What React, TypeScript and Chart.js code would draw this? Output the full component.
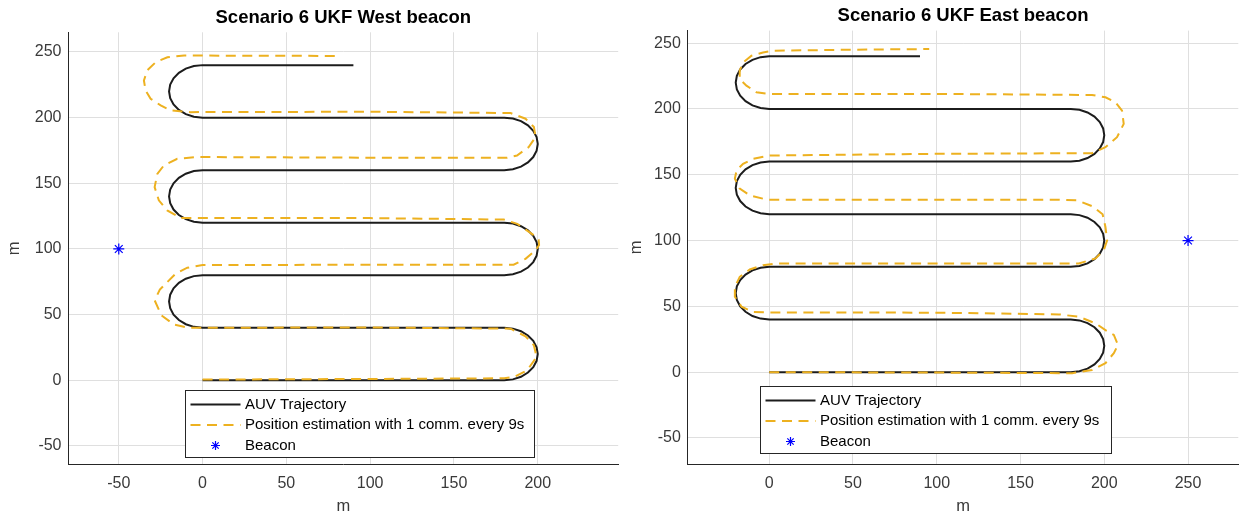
import React, { useEffect, useRef } from "react";
import { Chart, registerables } from "chart.js";
import { drawPoint } from "chart.js/helpers";

Chart.register(...registerables);

const FONT = '"Liberation Sans", Arial, Helvetica, sans-serif';

// ---------- text ----------
const seriesLabels = ["AUV Trajectory", "Position estimation with 1 comm. every 9s", "Beacon"];
const westTitle = "Scenario 6 UKF West beacon";
const eastTitle = "Scenario 6 UKF East beacon";
const axisLabel = "m";

// ---------- tick values ----------
const westXTicks = [-50, 0, 50, 100, 150, 200];
const eastXTicks = [0, 50, 100, 150, 200, 250];
const yTicks = [-50, 0, 50, 100, 150, 200, 250];

// ---------- AUV trajectory (same in both plots) ----------
const trajX = [
  0,
  180, 185.18, 190, 194.14, 197.32, 199.32, 200, 199.32, 197.32, 194.14, 190, 185.18, 180,
  0, -5.18, -10, -14.14, -17.32, -19.32, -20, -19.32, -17.32, -14.14, -10, -5.18, 0,
  180, 185.18, 190, 194.14, 197.32, 199.32, 200, 199.32, 197.32, 194.14, 190, 185.18, 180,
  0, -5.18, -10, -14.14, -17.32, -19.32, -20, -19.32, -17.32, -14.14, -10, -5.18, 0,
  180, 185.18, 190, 194.14, 197.32, 199.32, 200, 199.32, 197.32, 194.14, 190, 185.18, 180,
  0, -5.18, -10, -14.14, -17.32, -19.32, -20, -19.32, -17.32, -14.14, -10, -5.18, 0,
  90,
];
const trajY = [
  0,
  0, 0.68, 2.68, 5.86, 10, 14.82, 20, 25.18, 30, 34.14, 37.32, 39.32, 40,
  40, 40.68, 42.68, 45.86, 50, 54.82, 60, 65.18, 70, 74.14, 77.32, 79.32, 80,
  80, 80.68, 82.68, 85.86, 90, 94.82, 100, 105.18, 110, 114.14, 117.32, 119.32, 120,
  120, 120.68, 122.68, 125.86, 130, 134.82, 140, 145.18, 150, 154.14, 157.32, 159.32, 160,
  160, 160.68, 162.68, 165.86, 170, 174.82, 180, 185.18, 190, 194.14, 197.32, 199.32, 200,
  200, 200.68, 202.68, 205.86, 210, 214.82, 220, 225.18, 230, 234.14, 237.32, 239.32, 240,
  240,
];

// ---------- position estimation, West beacon ----------
const westEstX = [0, 100, 180, 185.8, 193.7, 199.3, 197.7, 192.7, 183.8, 100, 0, -8.2, -17.1, -24.6, -28.6, -25.5, -22, -16, -9.1, 0, 100, 185.6, 192.7, 198.7, 200.8, 200.5, 197.7, 193.7, 187.8, 179.8, 100, 0, -13.1, -21.1, -26.1, -28.6, -27, -23.1, -15.1, -3.2, 100, 181.7, 187.6, 194.6, 198.7, 197.7, 192.7, 183.8, 100, -7.2, -19, -25, -31, -34, -35, -33, -28, -21, -11, 82];
const westEstY = [0.5, 1, 1.5, 2.5, 7.6, 17.7, 26.6, 33.5, 39.3, 40.2, 40, 40, 42.4, 49.5, 60.9, 69, 73.6, 81.2, 85.7, 87.7, 88, 88, 92.5, 99, 103, 107, 110.4, 114, 119.1, 122.4, 123.5, 123.5, 123.5, 129.4, 137, 147.1, 157.2, 163.6, 168.7, 170, 169.5, 169.4, 171.2, 177.6, 185.2, 192.8, 199.2, 203.5, 204.5, 204.2, 205.5, 209.3, 214.4, 220.7, 228.3, 236, 242.2, 246, 247.3, 247];

// ---------- position estimation, East beacon ----------
const eastEstX = [0, 100, 180.8, 192.7, 200.7, 205.7, 208.2, 205.7, 200.7, 194.8, 184.8, 172.9, 100, 0, -9.6, -16.5, -20.5, -20.5, -17.6, -11.6, -3.7, 4.3, 100, 184.8, 194.8, 199.7, 201.7, 200.7, 199, 193, 184, 172, 100, 0, -3.7, -11.6, -17.6, -20.5, -19.5, -15.6, -9.6, 0.3, 100, 192.7, 200.7, 207.6, 211.6, 210.6, 206.7, 200.7, 192.7, 100, -0.7, -7.6, -13.6, -17.6, -17.6, -15.6, -10.6, -3.7, 2.3, 50, 95.5];
const eastEstY = [0, -0.3, -0.8, 1.7, 6.8, 14.4, 20.7, 28.3, 32, 37.1, 42.1, 43.9, 45.2, 45.4, 45.8, 49.7, 57.3, 64.8, 72.4, 78, 81.3, 82.6, 82.6, 82.6, 86.4, 92.7, 100.2, 110.3, 120, 126, 130.5, 131, 131, 131, 131.8, 134.3, 139.4, 147, 153.3, 158.3, 162.1, 164.6, 165.9, 166.4, 170.9, 178.5, 188.6, 198.7, 205, 208.8, 210.6, 211.4, 211.4, 212.6, 217.7, 222.7, 229, 235.3, 240.4, 242.9, 244.2, 245, 245.5];

// ---------- beacons ----------
const westBeaconX = [-50];
const westBeaconY = [100];
const eastBeaconX = [250];
const eastBeaconY = [100];

const toPoints = (xs: number[], ys: number[]) => xs.map((x, i) => ({ x, y: ys[i] }));

const boxLegend = {
  id: "boxLegend",
  afterDatasetsDraw(chart: any, _args: any, o: any) {
    const { ctx, chartArea } = chart;
    const x0 = Math.round(chartArea.left + o.offsetX) + 0.5;
    const y0 = Math.round(chartArea.bottom - o.offsetBottom - o.height) + 0.5;
    ctx.save();
    ctx.fillStyle = "#ffffff";
    ctx.fillRect(x0, y0, o.width, o.height);
    ctx.setLineDash([]);
    ctx.strokeStyle = "#262626";
    ctx.lineWidth = 1;
    ctx.strokeRect(x0, y0, o.width, o.height);
    const rows = [14, 34.5, 55];
    chart.data.datasets.forEach((ds: any, i: number) => {
      const cy = y0 + rows[i];
      if (ds.showLine) {
        ctx.beginPath();
        ctx.strokeStyle = ds.borderColor;
        ctx.lineWidth = ds.borderWidth;
        ctx.setLineDash(ds.borderDash || []);
        ctx.moveTo(x0 + 5, cy);
        ctx.lineTo(x0 + 55, cy);
        ctx.stroke();
        ctx.setLineDash([]);
      } else {
        ctx.strokeStyle = ds.borderColor;
        ctx.fillStyle = ds.backgroundColor;
        ctx.lineWidth = ds.borderWidth;
        drawPoint(ctx, { pointStyle: ds.pointStyle, radius: 4.5, rotation: 0, borderWidth: ds.borderWidth } as any, x0 + 30, cy);
      }
      ctx.fillStyle = "#000000";
      ctx.font = `15px ${FONT}`;
      ctx.textBaseline = "middle";
      ctx.textAlign = "left";
      ctx.fillText(ds.label, x0 + 59.5, cy);
    });
    ctx.restore();
  },
};

type P = {
  title: string;
  estX: number[];
  estY: number[];
  bX: number[];
  bY: number[];
  xMin: number;
  xMax: number;
  yMin: number;
  yMax: number;
  xTicks: number[];
  yAxisWidth: number;
  padRight: number;
  titlePad: { top: number; bottom: number };
  legend: { offsetX: number; offsetBottom: number; width: number; height: number };
};

function buildConfig(p: P): any {
  const tickColor = "#3a3a3a";
  return {
    type: "scatter",
    data: {
      datasets: [
        {
          label: seriesLabels[0],
          data: toPoints(trajX, trajY),
          showLine: true,
          borderColor: "#1c1c1c",
          backgroundColor: "#1c1c1c",
          borderWidth: 2,
          pointRadius: 0,
          tension: 0,
          order: 2,
        },
        {
          label: seriesLabels[1],
          data: toPoints(p.estX, p.estY),
          showLine: true,
          borderColor: "#EDB120",
          backgroundColor: "#EDB120",
          borderWidth: 2,
          borderDash: [10, 6.5],
          pointRadius: 0,
          tension: 0,
          order: 1,
        },
        {
          label: seriesLabels[2],
          data: toPoints(p.bX, p.bY),
          showLine: false,
          pointStyle: "star",
          pointRadius: 5.5,
          borderColor: "#0000ff",
          backgroundColor: "#0000ff",
          borderWidth: 1.2,
          order: 0,
        },
      ],
    },
    options: {
      responsive: false,
      maintainAspectRatio: false,
      animation: false,
      devicePixelRatio: 1,
      layout: { padding: { left: 0, right: p.padRight, top: 0, bottom: 0 } },
      plugins: {
        legend: { display: false },
        tooltip: { enabled: false },
        title: {
          display: true,
          text: p.title,
          fullSize: false,
          color: "#000000",
          font: { family: FONT, size: 18.5, weight: "bold" },
          padding: p.titlePad,
        },
        boxLegend: p.legend,
      },
      scales: {
        x: {
          type: "linear",
          position: "bottom",
          min: p.xMin,
          max: p.xMax,
          afterBuildTicks: (s: any) => {
            s.ticks = p.xTicks.map((v) => ({ value: v }));
          },
          afterFit: (s: any) => {
            s.height = 53.7;
          },
          grid: { color: "#dfdfdf", lineWidth: 1, drawTicks: false },
          border: { display: true, color: "#262626", width: 1 },
          ticks: {
            padding: 10,
            color: tickColor,
            autoSkip: false,
            maxRotation: 0,
            font: { family: FONT, size: 16 },
            callback: (v: any) => String(v),
          },
          title: {
            display: true,
            text: axisLabel,
            color: tickColor,
            font: { family: FONT, size: 16.5 },
            padding: { top: 0, bottom: 2 },
          },
        },
        y: {
          type: "linear",
          position: "left",
          min: p.yMin,
          max: p.yMax,
          afterBuildTicks: (s: any) => {
            s.ticks = yTicks.map((v) => ({ value: v }));
          },
          afterFit: (s: any) => {
            s.width = p.yAxisWidth;
          },
          grid: { color: "#dfdfdf", lineWidth: 1, drawTicks: false },
          border: { display: true, color: "#262626", width: 1 },
          ticks: {
            padding: 7,
            color: tickColor,
            autoSkip: false,
            font: { family: FONT, size: 16 },
            callback: (v: any) => String(v),
          },
          title: {
            display: true,
            text: axisLabel,
            color: tickColor,
            font: { family: FONT, size: 16.5 },
            padding: { top: 5, bottom: 0 },
          },
        },
      },
    },
    plugins: [boxLegend],
  };
}

function Plot({ cfg, left, width }: { cfg: any; left: number; width: number }) {
  const ref = useRef<HTMLCanvasElement | null>(null);
  useEffect(() => {
    if (!ref.current) return;
    const chart = new Chart(ref.current, cfg);
    return () => chart.destroy();
  }, []);
  return (
    <canvas
      ref={ref}
      width={width}
      height={518}
      style={{ position: "absolute", left, top: 0, width, height: 518 }}
    />
  );
}

export default function App() {
  const westCfg = buildConfig({
    title: westTitle,
    estX: westEstX,
    estY: westEstY,
    bX: westBeaconX,
    bY: westBeaconY,
    xMin: -80,
    xMax: 248,
    yMin: -64,
    yMax: 265,
    xTicks: westXTicks,
    yAxisWidth: 68.5,
    padRight: 6.8,
    titlePad: { top: 6.5, bottom: 3.6 },
    legend: { offsetX: 116.5, offsetBottom: 7, width: 349, height: 67 },
  });
  const eastCfg = buildConfig({
    title: eastTitle,
    estX: eastEstX,
    estY: eastEstY,
    bX: eastBeaconX,
    bY: eastBeaconY,
    xMin: -48.6,
    xMax: 280,
    yMin: -70,
    yMax: 259.5,
    xTicks: eastXTicks,
    yAxisWidth: 65.8,
    padRight: 5,
    titlePad: { top: 5, bottom: 3.4 },
    legend: { offsetX: 72.2, offsetBottom: 11.6, width: 351, height: 67 },
  });
  return (
    <div style={{ position: "absolute", left: 0, top: 0, width: 1245, height: 518, background: "#ffffff", overflow: "hidden" }}>
      <Plot cfg={westCfg} left={0} width={625} />
      <Plot cfg={eastCfg} left={622} width={623} />
    </div>
  );
}
